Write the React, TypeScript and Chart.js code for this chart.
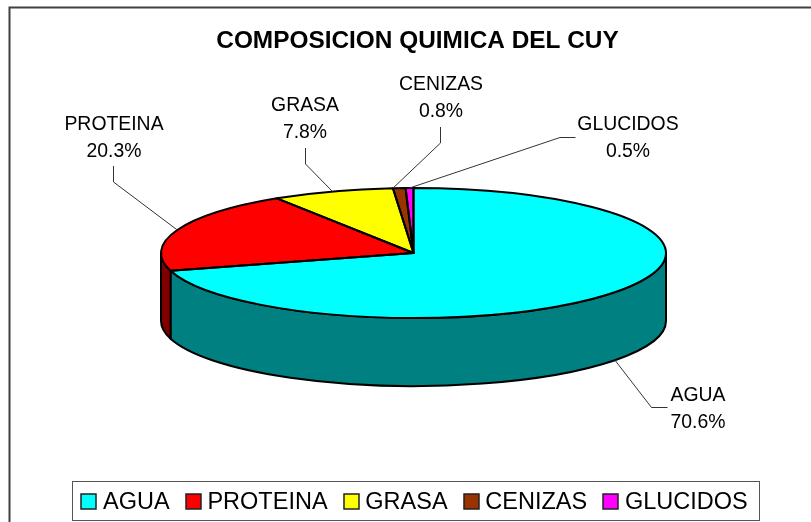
import React, { useEffect, useRef } from "react";
import { Chart, registerables } from "chart.js";

Chart.register(...registerables);

const categories = ["AGUA", "PROTEINA", "GRASA", "CENIZAS", "GLUCIDOS"];
const percentages = [70.6, 20.3, 7.8, 0.8, 0.5];
const topColors = ["#00FFFF", "#FF0000", "#FFFF00", "#993300", "#FF00FF"];
const sideColors = ["#008080", "#800000", "#808000", "#4D1A00", "#800080"];
const titleText = "COMPOSICION QUIMICA DEL CUY";

// Layout of the outside labels (text centre, leader elbow points, leader attachment)
const labelCentres = [
  [698, 409],
  [114, 138.5],
  [305, 119.5],
  [441, 98.5],
  [628, 138.5],
];
const leaderElbows = [
  [[667.5, 407.5], [651.5, 407.5]],
  [[113.5, 166], [113.5, 182]],
  [[305.5, 148], [305.5, 164]],
  [[440.5, 127], [440.5, 143]],
  [[575.5, 137.5], [560, 137.5]],
];
const leaderFractions = [0.5, 0.5, 0.5, 0, 0.5];

const CX = 413.5;
const CY = 253;
const RX = 252.5;
const RY = 65;
const DEPTH = 68;
const FONT = '"Liberation Sans", Arial, sans-serif';

const pie3d = {
  id: "pie3d",
  afterLayout(chart: any) {
    chart.titleBlock.left += 3;
    chart.titleBlock.right += 3;
  },
  beforeDraw(chart: any) {
    const { ctx } = chart;
    ctx.save();
    ctx.strokeStyle = "#404040";
    ctx.lineWidth = 2;
    ctx.beginPath();
    ctx.moveTo(9.5, 522);
    ctx.lineTo(9.5, 7.5);
    ctx.lineTo(811, 7.5);
    ctx.stroke();
    ctx.restore();
  },
  beforeDatasetsDraw(chart: any) {
    const { ctx } = chart;
    const arcs = chart.getDatasetMeta(0).data;
    ctx.save();
    ctx.lineWidth = 2;
    ctx.lineJoin = "round";
    ctx.strokeStyle = "#000";
    arcs.forEach((arc: any, i: number) => {
      const from = Math.max(arc.startAngle, 0);
      const to = Math.min(arc.endAngle, Math.PI);
      if (to <= from) return;
      ctx.beginPath();
      ctx.ellipse(CX, CY, RX, RY, 0, from, to);
      ctx.ellipse(CX, CY + DEPTH, RX, RY, 0, to, from, true);
      ctx.closePath();
      ctx.fillStyle = sideColors[i];
      ctx.fill();
      ctx.stroke();
    });
    ctx.restore();
    const a = arcs[0];
    ctx.save();
    ctx.translate(CX, CY);
    ctx.scale(1, RY / RX);
    ctx.translate(-a.x, -a.y);
  },
  afterDatasetsDraw(chart: any) {
    const { ctx } = chart;
    ctx.restore();
    const arcs = chart.getDatasetMeta(0).data;
    ctx.save();
    ctx.lineWidth = 2;
    ctx.lineJoin = "round";
    ctx.strokeStyle = "#000";
    arcs.forEach((arc: any) => {
      ctx.beginPath();
      ctx.moveTo(CX, CY);
      ctx.ellipse(CX, CY, RX, RY, 0, arc.startAngle, arc.endAngle);
      ctx.closePath();
      ctx.stroke();
    });
    ctx.lineWidth = 1;
    ctx.strokeStyle = "#333";
    ctx.fillStyle = "#000";
    ctx.font = `19.4px ${FONT}`;
    ctx.textAlign = "center";
    ctx.textBaseline = "middle";
    arcs.forEach((arc: any, i: number) => {
      const angle = arc.startAngle + leaderFractions[i] * (arc.endAngle - arc.startAngle);
      const ex = CX + RX * Math.cos(angle);
      let ey = CY + RY * Math.sin(angle);
      if (Math.sin(angle) > 0) ey += DEPTH;
      ctx.beginPath();
      leaderElbows[i].forEach(([x, y], k) => (k ? ctx.lineTo(x, y) : ctx.moveTo(x, y)));
      ctx.lineTo(ex, ey);
      ctx.stroke();
      const [tx, ty] = labelCentres[i];
      ctx.fillText(categories[i], tx, ty - 13.5);
      ctx.fillText(`${percentages[i].toFixed(1)}%`, tx, ty + 13.5);
    });
    ctx.restore();
  },
  afterDraw(chart: any) {
    const { ctx } = chart;
    const boxes = chart.legend.legendHitBoxes;
    const left = boxes[0].left - 9;
    const right = boxes[boxes.length - 1].left + boxes[boxes.length - 1].width + 12;
    ctx.save();
    ctx.strokeStyle = "#555";
    ctx.lineWidth = 1;
    ctx.strokeRect(Math.round(left) + 0.5, 481.5, Math.round(right - left), 39);
    ctx.lineWidth = 1.5;
    ctx.strokeStyle = "#222";
    boxes.forEach((b: any, i: number) => {
      ctx.fillStyle = topColors[i];
      ctx.fillRect(Math.round(b.left), 494, 15, 15);
      ctx.strokeRect(Math.round(b.left), 494, 15, 15);
    });
    ctx.restore();
  },
};

export default function App() {
  const ref = useRef<HTMLCanvasElement>(null);
  useEffect(() => {
    document.body.style.margin = "0";
    const chart = new Chart(ref.current as HTMLCanvasElement, {
      type: "pie",
      data: {
        labels: categories,
        datasets: [
          {
            data: percentages,
            backgroundColor: topColors,
            borderWidth: 0,
            clip: false,
          } as any,
        ],
      },
      options: {
        responsive: false,
        animation: false,
        radius: RX,
        layout: { padding: { left: 18, right: 0, top: 0, bottom: -2 } },
        plugins: {
          tooltip: { enabled: false },
          title: {
            display: true,
            text: titleText,
            color: "#000",
            font: { family: FONT, size: 24.4, weight: "bold" },
            padding: { top: 27, bottom: 6 },
          },
          legend: {
            position: "bottom",
            labels: {
              boxWidth: 10,
              boxHeight: 15,
              padding: 16,
              color: "#000",
              font: { family: FONT, size: 23.5 },
              generateLabels: (c: any) =>
                (Chart as any).overrides.doughnut.plugins.legend.labels
                  .generateLabels(c)
                  .map((l: any) => ({ ...l, fillStyle: "rgba(0,0,0,0)", strokeStyle: "rgba(0,0,0,0)", lineWidth: 0 })),
            },
          },
        },
      } as any,
      plugins: [pie3d],
    });
    return () => chart.destroy();
  }, []);
  return (
    <div style={{ position: "fixed", left: 0, top: 0, width: 811, height: 522, background: "#fff" }}>
      <canvas ref={ref} width={811} height={522} style={{ display: "block" }} />
    </div>
  );
}
